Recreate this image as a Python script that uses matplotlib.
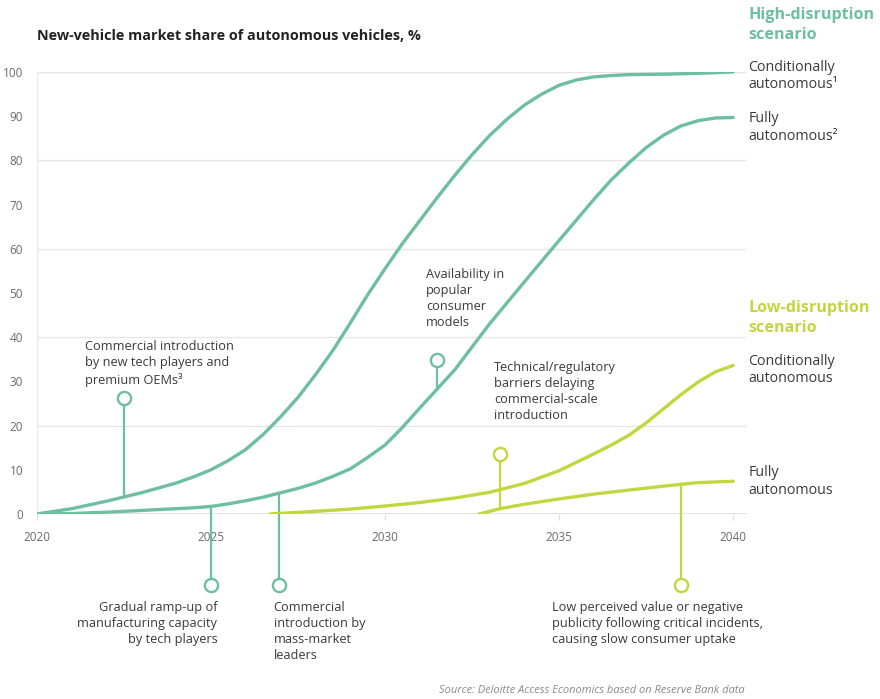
import matplotlib.pyplot as plt

plt.rcParams["font.family"] = ["Open Sans", "DejaVu Sans"]

TEAL = "#6dbf9f"
LIME = "#c2d63f"
TEXT = "#3a3a3a"
GRID = "#e6e6e6"

# high-disruption scenario
hc_years = [2020, 2021, 2022, 2023, 2024, 2024.5, 2025, 2025.5, 2026, 2026.5,
            2027, 2027.5, 2028, 2028.5, 2029, 2029.5, 2030, 2030.5, 2031,
            2031.5, 2032, 2032.5, 2033, 2033.5, 2034, 2034.5, 2035, 2035.5,
            2036, 2036.5, 2037, 2038, 2039, 2040]
high_conditional = [0, 1.2, 2.9, 4.8, 7.0, 8.4, 10.0, 12.1, 14.6, 18.0,
                    22.0, 26.4, 31.5, 37.0, 43.2, 49.6, 55.5, 61.2, 66.4,
                    71.6, 76.6, 81.3, 85.6, 89.3, 92.5, 95.0, 97.0, 98.2,
                    98.9, 99.2, 99.4, 99.5, 99.7, 100.0]
hf_years = [2020, 2021, 2022, 2023, 2024, 2024.5, 2025, 2025.5, 2026, 2026.5,
            2027, 2027.5, 2028, 2028.5, 2029, 2029.5, 2030, 2030.5, 2031, 2032,
            2033, 2034, 2035, 2036, 2036.5, 2037, 2037.5, 2038, 2038.5, 2039,
            2039.5, 2040]
high_fully = [0, 0.1, 0.4, 0.8, 1.2, 1.4, 1.7, 2.3, 3.0, 3.8,
              4.8, 5.8, 7.0, 8.5, 10.2, 12.8, 15.6, 19.6, 24.0, 32.6,
              43.0, 52.5, 61.9, 71.2, 75.6, 79.4, 82.9, 85.7, 87.8, 89.0,
              89.6, 89.7]

# low-disruption scenario
lc_years = [2026.7, 2028, 2029, 2030, 2031, 2032, 2033, 2034, 2035, 2036,
            2036.5, 2037, 2037.5, 2038, 2038.5, 2039, 2039.5, 2040]
low_conditional = [0, 0.6, 1.1, 1.8, 2.6, 3.6, 4.9, 6.9, 9.8, 13.6,
                   15.6, 17.8, 20.6, 23.8, 27.0, 29.9, 32.2, 33.6]
lf_years = [2032.7, 2033.3, 2034, 2035, 2036, 2037, 2038, 2039, 2040]
low_fully = [0, 1.2, 2.2, 3.4, 4.5, 5.4, 6.3, 7.1, 7.4]

# pin annotations: year, value where the pin meets its curve, value of the circle
pin_years = [2022.5, 2025.0, 2026.95, 2031.5, 2033.3, 2038.5]
pin_base = [3.8, 1.7, 4.8, 28.2, 1.2, 6.7]
pin_head = [26.3, -16.0, -16.0, 34.8, 13.5, -16.0]
pin_colors = [TEAL, TEAL, TEAL, TEAL, LIME, LIME]

pin_notes = [
    (2021.38, 39.3, "Commercial introduction\nby new tech players and\npremium OEMs³", "left"),
    (2025.18, -19.6, "Gradual ramp-up of\nmanufacturing capacity\nby tech players", "right"),
    (2026.8, -19.6, "Commercial\nintroduction by\nmass-market\nleaders", "left"),
    (2031.18, 55.6, "Availability in\npopular\nconsumer\nmodels", "left"),
    (2033.13, 34.6, "Technical/regulatory\nbarriers delaying\ncommercial-scale\nintroduction", "left"),
    (2034.8, -19.6, "Low perceived value or negative\npublicity following critical incidents,\ncausing slow consumer uptake", "left"),
]

fig = plt.figure(figsize=(8.8, 6.99), dpi=100)
ax = fig.add_axes([0.042, 0.2647, 0.807, 0.6323])
ax.set_xlim(2020, 2040.4)
ax.set_ylim(0, 100)

for v in [20, 40, 60, 80, 100]:
    ax.axhline(v, color=GRID, lw=1, zorder=0)
ax.axhline(0, color="#dddddd", lw=1.2, zorder=0)
ax.axvline(2020, color=GRID, lw=1, zorder=0)

line_kw = dict(lw=2.4, solid_capstyle="round", solid_joinstyle="round", zorder=3)
ax.plot(hc_years, high_conditional, color=TEAL, **line_kw)
ax.plot(hf_years, high_fully, color=TEAL, **line_kw)
ax.plot(lc_years, low_conditional, color=LIME, **line_kw)
ax.plot(lf_years, low_fully, color=LIME, **line_kw)

for x, y0, y1, c in zip(pin_years, pin_base, pin_head, pin_colors):
    ax.plot([x, x], [y0, y1], color=c, lw=1.6, clip_on=False, zorder=2)
    ax.plot(x, y1, "o", ms=9.5, mfc="white", mec=c, mew=1.7, clip_on=False, zorder=4)

for x, y, txt, ha in pin_notes:
    ax.text(x, y, txt, ha=ha, va="top", fontsize=9.2, color=TEXT,
            linespacing=1.3, clip_on=False)

ax.set_yticks(range(0, 101, 10))
ax.set_xticks([2020, 2025, 2030, 2035, 2040])
ax.tick_params(axis="y", length=0, labelsize=8.5, labelcolor="#6b6b6b", pad=10)
ax.tick_params(axis="x", length=4, color="#dddddd", labelsize=8.5,
               labelcolor="#6b6b6b", pad=8)
for s in ax.spines.values():
    s.set_visible(False)

# scenario and series labels on the right
lx = 2040.43
ax.text(lx, 114.6, "High-disruption\nscenario", color=TEAL, fontsize=11.6,
        fontweight="bold", va="top", linespacing=1.3, clip_on=False)
ax.text(lx, 102.8, "Conditionally\nautonomous¹", color=TEXT, fontsize=10.3,
        va="top", linespacing=1.25, clip_on=False)
ax.text(lx, 91.2, "Fully\nautonomous²", color=TEXT, fontsize=10.3,
        va="top", linespacing=1.25, clip_on=False)
ax.text(lx, 48.4, "Low-disruption\nscenario", color=LIME, fontsize=11.6,
        fontweight="bold", va="top", linespacing=1.3, clip_on=False)
ax.text(lx, 36.3, "Conditionally\nautonomous", color=TEXT, fontsize=10.3,
        va="top", linespacing=1.25, clip_on=False)
ax.text(lx, 11.0, "Fully\nautonomous", color=TEXT, fontsize=10.3,
        va="top", linespacing=1.25, clip_on=False)

fig.text(0.042, 0.948, "New-vehicle market share of autonomous vehicles, %",
         fontsize=10.4, fontweight="bold", color="#222222", va="center")
fig.text(0.846, 0.012, "Source: Deloitte Access Economics based on Reserve Bank data",
         fontsize=8, style="italic", color="#8a8a8a", ha="right", va="center")

fig.savefig("out.png", dpi=100, facecolor="white")
